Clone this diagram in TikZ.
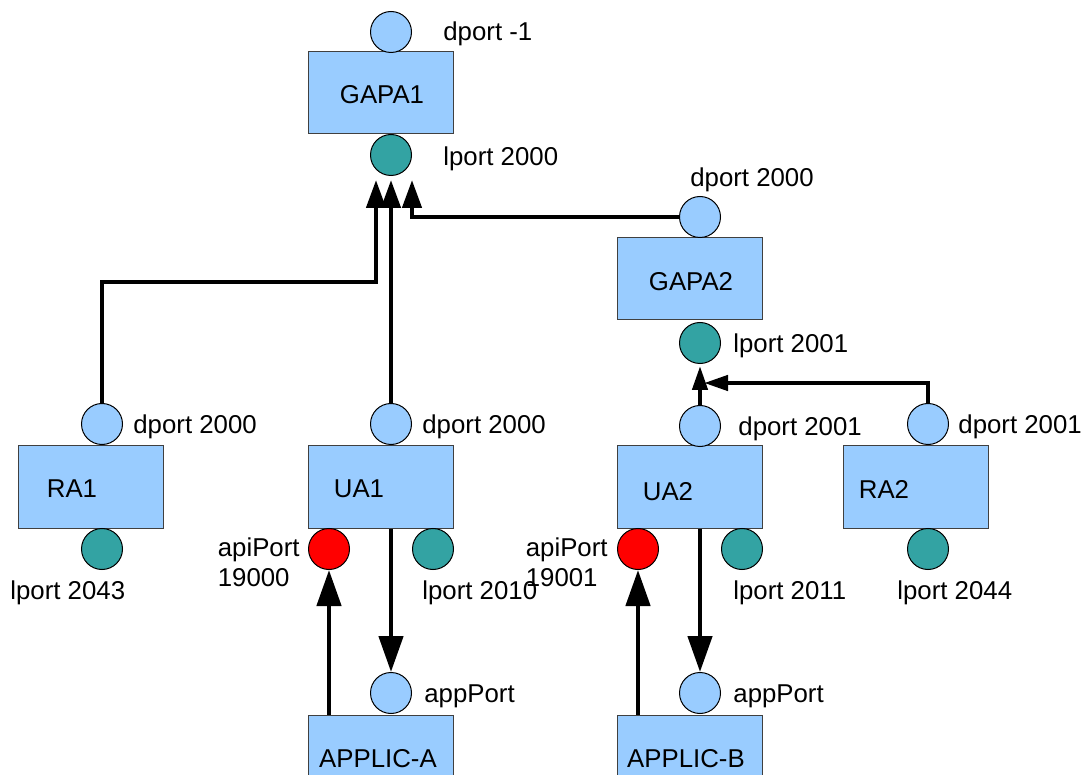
\documentclass[tikz,border=0pt]{standalone}
\usepackage{fontspec}
\setmainfont{Liberation Sans}
\usetikzlibrary{arrows.meta}
\definecolor{boxblue}{HTML}{99CCFF}
\definecolor{lportteal}{HTML}{33A3A3}
\definecolor{apired}{HTML}{FF0000}

\begin{document}
\begin{tikzpicture}[x=0.5pt,y=-0.5pt,
  agentbox/.style={draw=black!75,line width=0.5pt,fill=boxblue,minimum width=72.5pt,minimum height=41pt,inner sep=0pt},
  portc/.style={circle,draw=black,line width=0.5pt,minimum size=20.5pt,inner sep=0pt},
  dportc/.style={portc,fill=boxblue},
  lportc/.style={portc,fill=lportteal},
  apic/.style={portc,fill=apired},
  lbl/.style={font=\fontsize{12.9}{15}\selectfont,inner sep=0pt},
  flow/.style={line width=2.2pt,-{Triangle[length=14pt,width=9.5pt]}},
  smallflow/.style={line width=2.2pt,-{Triangle[length=12pt,width=7.5pt]}},
  bigflow/.style={line width=2.3pt,-{Triangle[length=18pt,width=12pt]}}]
\clip (0,0) rectangle (1088,775);
\fill[white] (0,0) rectangle (1088,775);

\node[agentbox] (gapa1) at (380.5,93) {};
\node[agentbox] (gapa2) at (690,279) {};
\node[agentbox] (ra1) at (90.5,487) {};
\node[agentbox] (ua1) at (380.5,487) {};
\node[agentbox] (ua2) at (690,487) {};
\node[agentbox] (ra2) at (915.5,487) {};
\node[agentbox] (appla) at (380.5,756) {};
\node[agentbox] (applb) at (690,756) {};

\node[lbl] (gapa1t) at (382,95) {GAPA1};
\node[lbl] (gapa2t) at (691,282) {GAPA2};
\node[lbl] (ra1t) at (72,489) {RA1};
\node[lbl] (ua1t) at (359,489) {UA1};
\node[lbl] (ua2t) at (668,492) {UA2};
\node[lbl] (ra2t) at (884,489) {RA2};
\node[lbl] (applat) at (378,759) {APPLIC-A};
\node[lbl] (applbt) at (686,759) {APPLIC-B};

\node[dportc] (g1d) at (391,32) {};
\node[lportc] (g1l) at (391,155) {};
\node[dportc] (g2d) at (700,217) {};
\node[lportc] (g2l) at (700,343) {};
\node[dportc] (ra1d) at (102,424) {};
\node[lportc] (ra1l) at (102,549) {};
\node[dportc] (ua1d) at (391,424) {};
\node[apic] (ua1api) at (329,549) {};
\node[lportc] (ua1l) at (433,549) {};
\node[dportc] (appa) at (391,693) {};
\node[dportc] (ua2d) at (700,426) {};
\node[apic] (ua2api) at (638,549) {};
\node[lportc] (ua2l) at (742,549) {};
\node[dportc] (appb) at (700,693) {};
\node[dportc] (ra2d) at (928,424) {};
\node[lportc] (ra2l) at (928,549) {};

\node[lbl,anchor=west] (g1dt) at (443,34) {dport -1};
\node[lbl,anchor=west] (g1lt) at (443,159) {lport 2000};
\node[lbl] (g2dt) at (752,180) {dport 2000};
\node[lbl,anchor=west] (g2lt) at (733,346) {lport 2001};
\node[lbl,anchor=west] (ra1dt) at (133,427) {dport 2000};
\node[lbl,anchor=west] (ra1lt) at (10,593) {lport 2043};
\node[lbl,anchor=west] (ua1dt) at (422,427) {dport 2000};
\node[lbl,anchor=east,align=left] (ua1apit) at (300,562) {apiPort\\19000};
\node[lbl,anchor=west] (ua1lt) at (422,593) {lport 2010};
\node[lbl,anchor=west] (appat) at (424,696) {appPort};
\node[lbl,anchor=west] (ua2dt) at (738,429) {dport 2001};
\node[lbl,anchor=east,align=left] (ua2apit) at (608,562) {apiPort\\19001};
\node[lbl,anchor=west] (ua2lt) at (733,593) {lport 2011};
\node[lbl,anchor=west] (appbt) at (733,696) {appPort};
\node[lbl,anchor=west] (ra2dt) at (958,427) {dport 2001};
\node[lbl,anchor=west] (ra2lt) at (897,593) {lport 2044};

\coordinate (g1inA) at (376,180);
\coordinate (g1inB) at (391,180);
\coordinate (g1inC) at (412,180);
\coordinate (g2inA) at (700,366);
\coordinate (g2inB) at (704,383);

\draw[flow] (ra1d.north) -- ++(0,-121) -| (g1inA);
\draw[flow] (ua1d.north) -- (g1inB);
\draw[flow] (g2d.west) -| (g1inC);
\draw[smallflow] (ua2d.north) -- (g2inA);
\draw[smallflow] (ra2d.north) |- (g2inB);
\draw[bigflow] (ua1d |- ua1.south) -- (appa.north);
\draw[bigflow] (ua1api |- appla.north) -- (ua1api.south);
\draw[bigflow] (ua2d |- ua2.south) -- (appb.north);
\draw[bigflow] (ua2api |- applb.north) -- (ua2api.south);
\end{tikzpicture}
\end{document}
